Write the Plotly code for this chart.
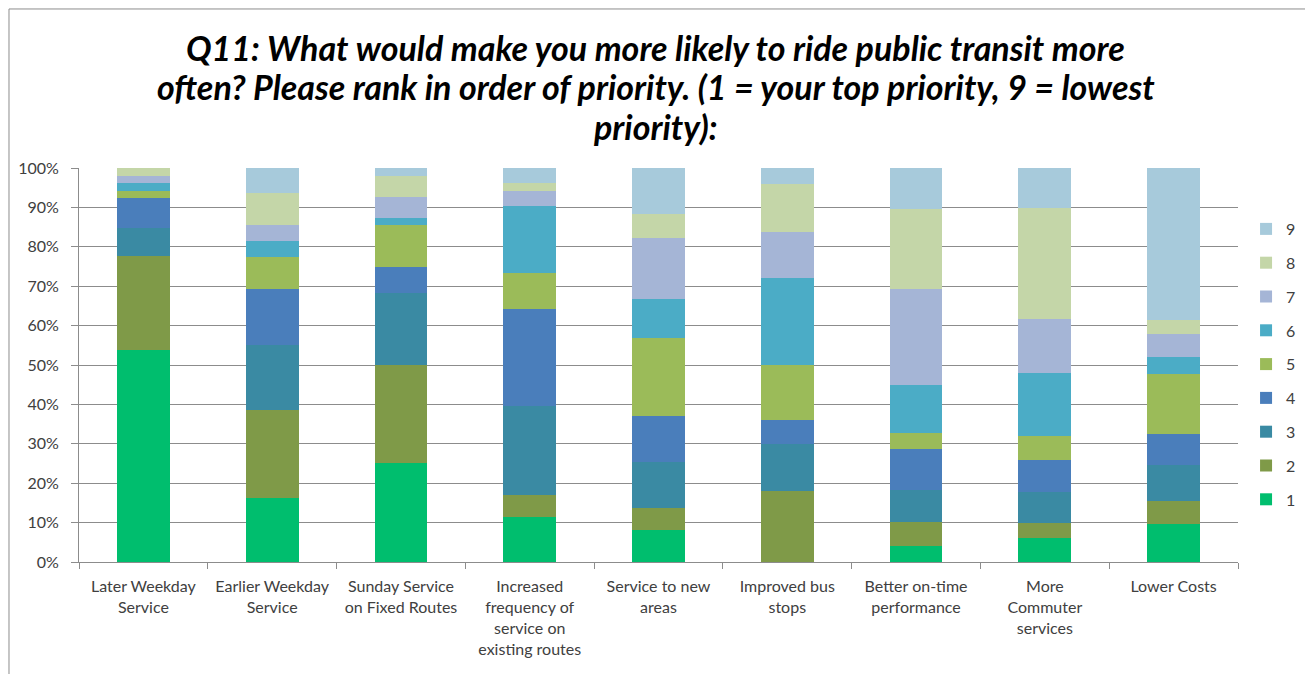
import plotly.graph_objects as go

categories = [
    "Later Weekday<br>Service",
    "Earlier Weekday<br>Service",
    "Sunday Service<br>on Fixed Routes",
    "Increased<br>frequency of<br>service on<br>existing routes",
    "Service to new<br>areas",
    "Improved bus<br>stops",
    "Better on-time<br>performance",
    "More<br>Commuter<br>services",
    "Lower Costs",
]

rank_names = ["1", "2", "3", "4", "5", "6", "7", "8", "9"]

rank1 = [53.8, 16.3, 25.2, 11.5, 8.1, 0.0, 4.1, 6.0, 9.6]
rank2 = [23.9, 22.3, 24.8, 5.5, 5.7, 18.0, 6.1, 4.0, 6.0]
rank3 = [7.0, 16.5, 18.2, 22.6, 11.7, 11.9, 8.1, 7.8, 9.0]
rank4 = [7.8, 14.1, 6.6, 24.5, 11.6, 6.1, 10.3, 8.1, 7.9]
rank5 = [1.7, 8.1, 10.7, 9.3, 19.7, 14.0, 4.1, 6.1, 15.3]
rank6 = [2.1, 4.2, 1.7, 17.0, 9.9, 22.0, 12.1, 15.9, 4.2]
rank7 = [1.7, 4.0, 5.5, 3.8, 15.6, 11.8, 24.5, 13.8, 5.8]
rank8 = [2.0, 8.2, 5.3, 1.9, 5.9, 12.1, 20.3, 28.2, 3.7]
rank9 = [0.0, 6.3, 2.0, 3.9, 11.8, 4.1, 10.4, 10.1, 38.5]

series = [rank1, rank2, rank3, rank4, rank5, rank6, rank7, rank8, rank9]

title_lines = [
    "Q11: What would make you more likely to ride public transit more",
    "often? Please rank in order of priority. (1 = your top priority, 9 = lowest",
    "priority):",
]

colors = ["#00BE6E", "#7F9A48", "#3A8AA3", "#4A7EBB", "#9BBB59",
          "#4BACC6", "#A5B5D6", "#C4D6A8", "#A7CADB"]

fig = go.Figure()
for i, (name, vals, col) in enumerate(zip(rank_names, series, colors)):
    fig.add_trace(go.Bar(
        x=categories, y=vals, name=name, legendgroup=name,
        legendrank=100 - i,
        marker=dict(color=col, line=dict(width=0)),
        width=0.41,
    ))

FONT = "Lato, Calibri, Arial, sans-serif"

# page body has an 8px margin; figure is sized/offset to compensate
fig.update_layout(
    width=1305, height=666,
    barmode="stack",
    paper_bgcolor="white", plot_bgcolor="white",
    margin=dict(l=71, r=75, t=160, b=112, autoexpand=False),
    font=dict(family=FONT, size=16, color="#404040"),
    legend=dict(
        xref="container", yref="container",
        x=0.9487, xanchor="left", y=0.6937, yanchor="top",
        traceorder="grouped", tracegroupgap=10,
        font=dict(family=FONT, size=16, color="#404040"),
        bgcolor="rgba(0,0,0,0)",
    ),
    showlegend=True,
)

title_y = [1.3071, 1.2056, 1.1041]
for txt, yy in zip(title_lines, title_y):
    fig.add_annotation(
        text="<b><i>" + txt + "</i></b>", xref="paper", yref="paper",
        x=0.4978, y=yy, xanchor="center", yanchor="middle", showarrow=False,
        font=dict(family=FONT, size=34, color="#000000"),
    )

fig.update_yaxes(
    range=[0, 100], dtick=10, ticksuffix="%",
    showgrid=True, gridcolor="#8c8c8c", gridwidth=1,
    showline=True, linecolor="#8c8c8c", linewidth=1,
    ticks="outside", ticklen=7, tickcolor="#8c8c8c",
    ticklabelstandoff=9,
    zeroline=False,
    tickfont=dict(family=FONT, size=16, color="#404040"),
)
fig.update_xaxes(
    showline=True, linecolor="#8c8c8c", linewidth=1,
    ticks="outside", ticklen=6, tickcolor="#8c8c8c", tickson="boundaries",
    ticklabelstandoff=10,
    tickfont=dict(family=FONT, size=16, color="#404040"),
    showgrid=False,
)

fig.add_shape(type="rect", xref="paper", yref="paper",
              x0=-0.0604, x1=1.0613, y0=-0.35, y1=1.4036,
              line=dict(color="#8c8c8c", width=1), fillcolor="rgba(0,0,0,0)",
              layer="below")

fig.write_html("out.html")
